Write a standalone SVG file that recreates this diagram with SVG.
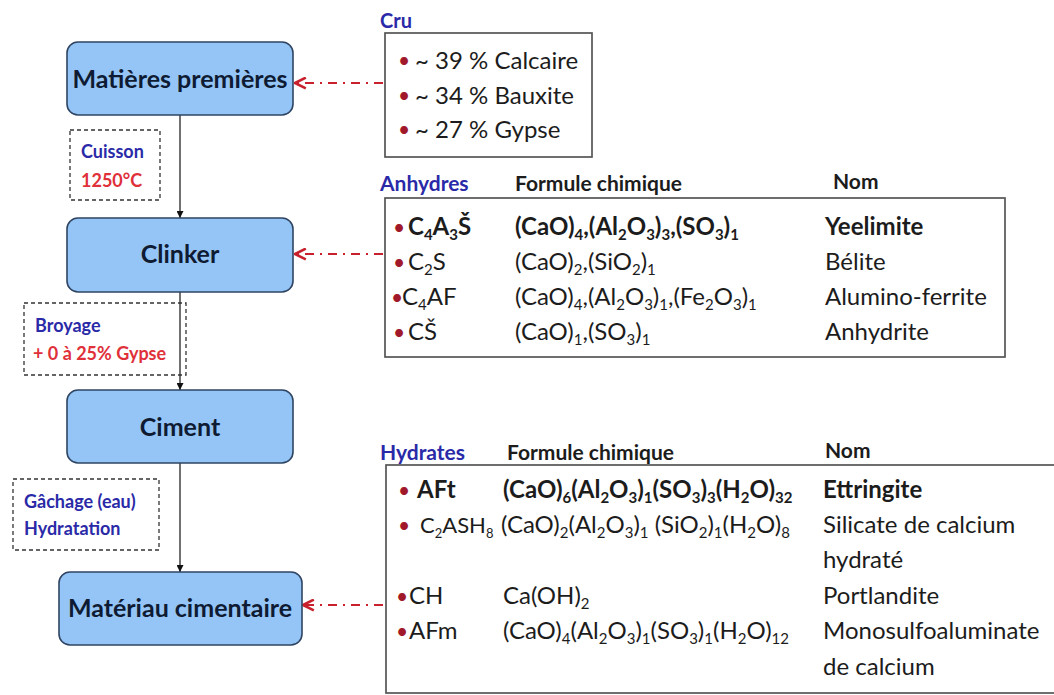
<svg xmlns="http://www.w3.org/2000/svg" width="1054" height="695" viewBox="0 0 1054 695">
<defs>
<style>
text{font-family:Lato,"Open Sans","Liberation Sans",sans-serif;}
.node rect{fill:#95c5f6;stroke:#2f4563;stroke-width:1.6;}
.ntxt{font-size:25px;font-weight:bold;fill:#0e1b33;text-anchor:middle;}
.dbox{fill:none;stroke:#333;stroke-width:1.3;stroke-dasharray:4 3;}
.blue{fill:#2a2aa8;font-weight:bold;}
.red{fill:#e0303a;font-weight:bold;}
.edge{stroke:#111;stroke-width:1.2;fill:none;}
.rarrow{stroke:#c8202c;stroke-width:2.2;fill:none;stroke-dasharray:9 6 2 6;}
.panel{fill:#fff;stroke:#555;stroke-width:1.7;}
.item{font-size:24px;fill:#1c1c1c;}
.bul{font-size:21px;fill:#a0182a;}
.b{font-weight:bold;}
.hdr{font-size:21px;fill:#1c1c1c;font-weight:bold;}
.sb{font-size:15px;baseline-shift:-5px;}
</style>
<marker id="ah" viewBox="0 0 10 10" refX="10" refY="5" markerWidth="7" markerHeight="7" orient="auto" markerUnits="userSpaceOnUse">
<path d="M0,0 L10,5 L0,10 z" fill="#111"/>
</marker>
<marker id="rh" viewBox="0 0 12 12" refX="11" refY="6" markerWidth="13" markerHeight="13" orient="auto" markerUnits="userSpaceOnUse">
<path d="M1,1 L11,6 L1,11" fill="none" stroke="#c8202c" stroke-width="2.4"/>
</marker>
</defs>
<rect width="1054" height="695" fill="#fff"/>

<g id="connectors">
<line class="edge" x1="180" y1="115" x2="180" y2="218" marker-end="url(#ah)"/>
<line class="edge" x1="180" y1="292" x2="180" y2="390" marker-end="url(#ah)"/>
<line class="edge" x1="180" y1="463" x2="180" y2="572" marker-end="url(#ah)"/>
<line class="rarrow" x1="383" y1="83" x2="295" y2="83" marker-end="url(#rh)"/>
<line class="rarrow" x1="383" y1="254" x2="295" y2="254" marker-end="url(#rh)"/>
<line class="rarrow" x1="383" y1="605" x2="303" y2="605" marker-end="url(#rh)"/>
</g>

<g id="lbl-cuisson">
<rect class="dbox" x="70" y="130" width="90" height="70"/>
<text x="81" y="158" font-size="18" class="blue">Cuisson</text>
<text x="81" y="187" font-size="18" class="red">1250°C</text>
</g>
<g id="lbl-broyage">
<rect class="dbox" x="24" y="303" width="162" height="72"/>
<text x="35" y="332" font-size="18" class="blue">Broyage</text>
<text x="33" y="360" font-size="18" class="red">+ 0 à 25% Gypse</text>
</g>
<g id="lbl-gachage">
<rect class="dbox" x="13" y="479" width="146" height="71"/>
<text x="24" y="508" font-size="18" class="blue">Gâchage (eau)</text>
<text x="24" y="535" font-size="18" class="blue">Hydratation</text>
</g>

<g id="n-matieres" class="node">
<rect x="67" y="42" width="226" height="73" rx="11"/>
<text x="180" y="88" class="ntxt">Matières premières</text>
</g>
<g id="n-clinker" class="node">
<rect x="67" y="218" width="226" height="74" rx="11"/>
<text x="180" y="263" class="ntxt">Clinker</text>
</g>
<g id="n-ciment" class="node">
<rect x="67" y="390" width="226" height="73" rx="11"/>
<text x="180" y="436" class="ntxt">Ciment</text>
</g>
<g id="n-materiau" class="node">
<rect x="59" y="572" width="243" height="73" rx="11"/>
<text x="180" y="617" class="ntxt">Matériau cimentaire</text>
</g>

<g id="p-cru">
<text x="380" y="28" font-size="20" class="blue">Cru</text>
<rect class="panel" x="385" y="33" width="207" height="124"/>
<text x="398" y="68" class="bul">•</text>
<text x="415" y="69" class="item">~ 39 % Calcaire</text>
<text x="398" y="103" class="bul">•</text>
<text x="415" y="104" class="item">~ 34 % Bauxite</text>
<text x="398" y="137" class="bul">•</text>
<text x="415" y="138" class="item">~ 27 % Gypse</text>
</g>

<g id="p-anhydres">
<text x="380" y="191" font-size="21" class="blue">Anhydres</text>
<text x="515" y="191" class="hdr">Formule chimique</text>
<text x="833" y="189" class="hdr">Nom</text>
<rect class="panel" x="385" y="198" width="620" height="159"/>
<text x="393" y="235" class="bul">•</text>
<text x="408" y="235" class="item b">C<tspan class="sb">4</tspan>A<tspan class="sb">3</tspan>Š</text>
<text x="515" y="235" class="item b">(CaO)<tspan class="sb">4</tspan>,(Al<tspan class="sb">2</tspan>O<tspan class="sb">3</tspan>)<tspan class="sb">3</tspan>,(SO<tspan class="sb">3</tspan>)<tspan class="sb">1</tspan></text>
<text x="825" y="235" class="item b">Yeelimite</text>
<text x="393" y="270" class="bul">•</text>
<text x="408" y="270" class="item">C<tspan class="sb">2</tspan>S</text>
<text x="515" y="270" class="item">(CaO)<tspan class="sb">2</tspan>,(SiO<tspan class="sb">2</tspan>)<tspan class="sb">1</tspan></text>
<text x="825" y="270" class="item">Bélite</text>
<text x="391" y="305" class="bul">•</text>
<text x="402" y="305" class="item">C<tspan class="sb">4</tspan>AF</text>
<text x="515" y="305" class="item">(CaO)<tspan class="sb">4</tspan>,(Al<tspan class="sb">2</tspan>O<tspan class="sb">3</tspan>)<tspan class="sb">1</tspan>,(Fe<tspan class="sb">2</tspan>O<tspan class="sb">3</tspan>)<tspan class="sb">1</tspan></text>
<text x="825" y="305" class="item">Alumino-ferrite</text>
<text x="393" y="340" class="bul">•</text>
<text x="408" y="340" class="item">CŠ</text>
<text x="515" y="340" class="item">(CaO)<tspan class="sb">1</tspan>,(SO<tspan class="sb">3</tspan>)<tspan class="sb">1</tspan></text>
<text x="825" y="340" class="item">Anhydrite</text>
</g>

<g id="p-hydrates">
<text x="380" y="460" font-size="21" class="blue">Hydrates</text>
<text x="507" y="460" class="hdr">Formule chimique</text>
<text x="825" y="458" class="hdr">Nom</text>
<rect class="panel" x="386" y="465" width="680" height="228"/>
<text x="398" y="498" class="bul">•</text>
<text x="417" y="498" class="item b">AFt</text>
<text x="503" y="498" class="item b">(CaO)<tspan class="sb">6</tspan>(Al<tspan class="sb">2</tspan>O<tspan class="sb">3</tspan>)<tspan class="sb">1</tspan>(SO<tspan class="sb">3</tspan>)<tspan class="sb">3</tspan>(H<tspan class="sb">2</tspan>O)<tspan class="sb">32</tspan></text>
<text x="823" y="498" class="item b">Ettringite</text>
<text x="398" y="533" class="bul">•</text>
<text x="420" y="533" class="item" font-size="22" style="font-size:22px">C<tspan class="sb" style="font-size:13px">2</tspan>ASH<tspan class="sb" style="font-size:13px">8</tspan></text>
<text x="501" y="533" class="item">(CaO)<tspan class="sb">2</tspan>(Al<tspan class="sb">2</tspan>O<tspan class="sb">3</tspan>)<tspan class="sb">1</tspan> (SiO<tspan class="sb">2</tspan>)<tspan class="sb">1</tspan>(H<tspan class="sb">2</tspan>O)<tspan class="sb">8</tspan></text>
<text x="823" y="533" class="item">Silicate de calcium</text>
<text x="823" y="568" class="item">hydraté</text>
<text x="396" y="604" class="bul">•</text>
<text x="409" y="604" class="item">CH</text>
<text x="503" y="604" class="item">Ca(OH)<tspan class="sb">2</tspan></text>
<text x="823" y="604" class="item">Portlandite</text>
<text x="396" y="639" class="bul">•</text>
<text x="409" y="639" class="item">AFm</text>
<text x="503" y="639" class="item">(CaO)<tspan class="sb">4</tspan>(Al<tspan class="sb">2</tspan>O<tspan class="sb">3</tspan>)<tspan class="sb">1</tspan>(SO<tspan class="sb">3</tspan>)<tspan class="sb">1</tspan>(H<tspan class="sb">2</tspan>O)<tspan class="sb">12</tspan></text>
<text x="823" y="639" class="item">Monosulfoaluminate</text>
<text x="823" y="675" class="item">de calcium</text>
</g>
</svg>
